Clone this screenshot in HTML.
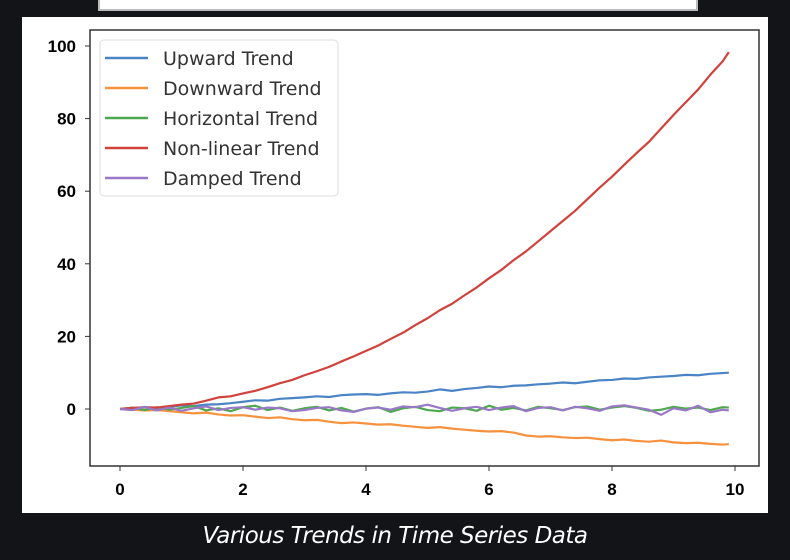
<!DOCTYPE html>
<html><head><meta charset="utf-8"><style>
body{margin:0;width:790px;height:560px;background:#131418;overflow:hidden;font-family:"Liberation Sans",sans-serif}
#topbox{position:absolute;left:98px;top:-4px;width:596px;height:11px;background:#fff;border:2px solid #bbb}
#panel{position:absolute;left:22px;top:17px;width:746px;height:496px;background:#fff}
#cap{position:absolute;left:0;width:790px;top:523px;text-align:center;color:#fff;font-style:italic;font-size:23px;font-family:"DejaVu Sans",sans-serif;letter-spacing:-0.5px}
</style></head><body>
<div id="topbox"></div>
<div id="panel"></div>
<svg id="chart" width="790" height="560" style="position:absolute;left:0;top:0"></svg>
<div id="cap">Various Trends in Time Series Data</div>
<script>
const xs=[0,0.2,0.4,0.6,0.8,1,1.2,1.4,1.6,1.8,2,2.2,2.4,2.6,2.8,3,3.2,3.4,3.6,3.8,4,4.2,4.4,4.6,4.8,5,5.2,5.4,5.6,5.8,6,6.2,6.4,6.6,6.8,7,7.2,7.4,7.6,7.8,8,8.2,8.4,8.6,8.8,9,9.2,9.4,9.6,9.8,9.9];
const upward=[0,0.2,0.5,0.3,0.6,1.0,0.8,1.2,1.3,1.6,2.0,2.4,2.3,2.8,3.0,3.2,3.5,3.3,3.8,4.0,4.1,3.9,4.3,4.6,4.5,4.8,5.4,5.0,5.5,5.8,6.2,6.0,6.4,6.5,6.8,7.0,7.3,7.1,7.5,7.9,8.0,8.4,8.3,8.7,8.9,9.1,9.4,9.3,9.7,9.9,10.0];
const downward=[0,-0.2,-0.4,-0.3,-0.6,-0.9,-1.2,-1.0,-1.5,-1.8,-1.7,-2.1,-2.5,-2.3,-2.8,-3.1,-3.0,-3.5,-3.9,-3.7,-4.0,-4.3,-4.2,-4.6,-4.9,-5.2,-5.0,-5.4,-5.7,-6.0,-6.2,-6.1,-6.5,-7.3,-7.6,-7.5,-7.8,-8.0,-7.9,-8.3,-8.6,-8.4,-8.8,-9.0,-8.7,-9.2,-9.4,-9.3,-9.6,-9.8,-9.7];
const horizontal=[0,0.4,-0.3,0.5,-0.2,0.3,0.8,-0.4,0.2,-0.6,0.5,0.9,-0.3,0.4,-0.5,0.2,0.6,-0.4,0.3,-0.7,0.1,0.5,-0.8,0.2,0.6,-0.3,-0.6,0.4,0.2,-0.5,0.9,-0.2,0.3,-0.4,0.6,0.2,-0.3,0.5,0.7,-0.2,0.4,0.8,0.3,-0.5,-0.2,0.6,0.1,0.4,-0.3,0.5,0.4];
const damped=[0,-0.3,0.6,-0.4,0.4,-0.5,0.2,0.7,-0.3,0.3,0.5,-0.2,0.4,0.2,-0.6,-0.3,0.3,0.5,-0.4,-0.8,0.1,0.4,-0.2,0.7,0.5,1.2,0.3,-0.5,0.2,0.6,-0.3,0.4,0.8,-0.6,0.3,0.5,-0.4,0.6,0.2,-0.5,0.7,1.0,0.4,-0.2,-1.6,0.2,-0.4,0.9,-0.9,-0.2,-0.4];
const names=["Upward Trend","Downward Trend","Horizontal Trend","Non-linear Trend","Damped Trend"];
const nonlinear=[0,0.3,0.5,0.4,0.8,1.2,1.5,2.3,3.2,3.5,4.3,5.0,6.0,7.1,8.0,9.3,10.4,11.6,13.1,14.5,16.0,17.5,19.3,21.0,23.1,25.0,27.2,29.0,31.3,33.5,36.0,38.3,41.0,43.4,46.2,49.0,51.8,54.6,57.8,61.0,64.0,67.3,70.5,73.6,77.3,81.0,84.5,88.0,92.1,95.8,98.3];
const xTicks=[0,2,4,6,8,10];
const yTicks=[0,20,40,60,80,100];
const colors=["#4a84c4","#f7913d","#4fa84f","#d0423b","#9a78c8"];
const series=[upward,downward,horizontal,nonlinear,damped];
const svg=document.getElementById('chart');
const NS="http://www.w3.org/2000/svg";
const X=v=>120+v*61.5, Y=v=>409-v*3.63;
function mk(t,a){const e=document.createElementNS(NS,t);for(const k in a)e.setAttribute(k,a[k]);svg.appendChild(e);return e;}
const ax=mk('rect',{x:90,y:30,width:669,height:436,fill:'none',stroke:'#333','stroke-width':1.5});


xTicks.forEach(t=>{mk('line',{x1:X(t),x2:X(t),y1:466,y2:471,stroke:'#333'});
const l=mk('text',{x:X(t),y:495,'text-anchor':'middle','font-size':17,'font-weight':'bold',fill:'#000'});l.textContent=t;

});
yTicks.forEach(t=>{mk('line',{x1:85,x2:90,y1:Y(t),y2:Y(t),stroke:'#333'});
const l=mk('text',{x:76,y:Y(t)+6,'text-anchor':'end','font-size':17,'font-weight':'bold',fill:'#000'});l.textContent=t;

});
series.forEach((s,i)=>{const p=mk('polyline',{points:s.map((v,j)=>X(xs[j])+','+Y(v)).join(' '),fill:'none',stroke:colors[i],'stroke-width':2.2,'stroke-linejoin':'round'});

});
const lg=mk('rect',{x:100,y:40,width:238,height:156,rx:4,fill:'#fff','fill-opacity':0.85,stroke:'#ddd'});


names.forEach((n,i)=>{const y=58+i*30;mk('line',{x1:105,x2:148,y1:y,y2:y,stroke:colors[i],'stroke-width':2.5});
const t=mk('text',{x:163,y:y+7,'font-size':19,fill:'#333','font-family':'DejaVu Sans, sans-serif'});t.textContent=n;

});
</script>
</body></html>
